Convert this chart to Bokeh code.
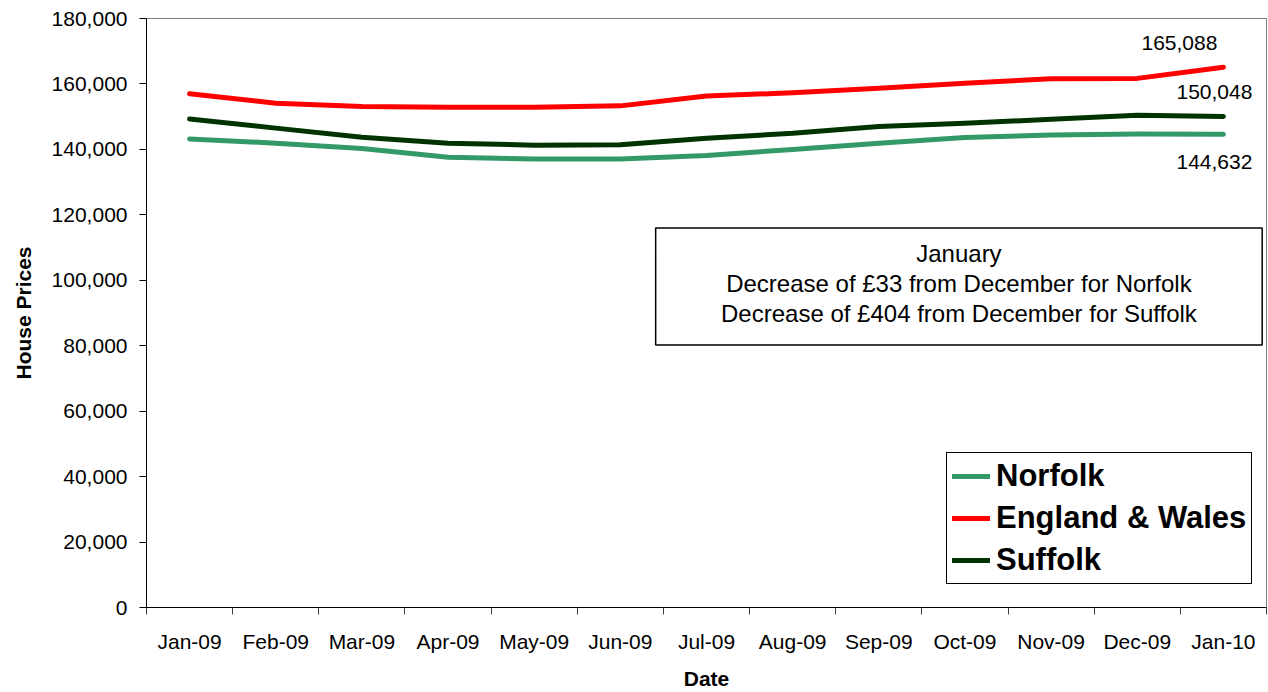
from bokeh.plotting import figure
from bokeh.models import (Range1d, FixedTicker, NumeralTickFormatter, ColumnDataSource,
                          LabelSet, Label, BoxAnnotation, Legend)
from bokeh.core.properties import value
from bokeh.embed import file_html
from bokeh.resources import INLINE

months = ["Jan-09", "Feb-09", "Mar-09", "Apr-09", "May-09", "Jun-09", "Jul-09",
          "Aug-09", "Sep-09", "Oct-09", "Nov-09", "Dec-09", "Jan-10"]
norfolk = [143200, 141900, 140300, 137600, 137100, 137100, 138100,
           140000, 141900, 143600, 144400, 144665, 144632]
england_wales = [157000, 154100, 153100, 152900, 152900, 153300, 156300,
                 157300, 158700, 160200, 161600, 161700, 165088]
suffolk = [149300, 146500, 143700, 141900, 141300, 141400, 143400,
           144900, 147000, 148000, 149200, 150452, 150048]
y_ticks = [0, 20000, 40000, 60000, 80000, 100000, 120000, 140000, 160000, 180000]

FONT = "Liberation Sans"
xs = list(range(len(months)))

p = figure(width=1268, height=692, output_backend="svg", toolbar_location=None,
           x_range=Range1d(-0.5, len(months) - 0.5), y_range=Range1d(0, 180000),
           min_border_left=146, min_border_right=2, min_border_top=18, min_border_bottom=85)
p.background_fill_color = "white"
p.border_fill_color = "white"
p.outline_line_color = "#808080"
p.outline_line_width = 1
p.xgrid.visible = False
p.ygrid.visible = False

# x axis
p.xaxis.ticker = FixedTicker(ticks=xs, minor_ticks=[i - 0.5 for i in range(len(months) + 1)])
p.xaxis.major_label_overrides = {i: m for i, m in enumerate(months)}
p.xaxis.major_tick_out = 0
p.xaxis.major_tick_in = 0
p.xaxis.minor_tick_out = 7
p.xaxis.minor_tick_in = 0
p.xaxis.minor_tick_line_color = "#404040"
p.xaxis.major_label_standoff = 15
p.xaxis.major_label_text_font = FONT
p.xaxis.major_label_text_font_size = "21px"
p.xaxis.major_label_text_color = "black"
p.xaxis.axis_label = "Date"
p.xaxis.axis_label_text_font = FONT
p.xaxis.axis_label_text_font_size = "21px"
p.xaxis.axis_label_text_font_style = "bold"
p.xaxis.axis_label_text_color = "black"
p.xaxis.axis_label_standoff = 11
p.xaxis.axis_line_color = "black"

# y axis
p.yaxis.ticker = FixedTicker(ticks=y_ticks)
p.yaxis.formatter = NumeralTickFormatter(format="0,0")
p.yaxis.major_tick_out = 7
p.yaxis.major_tick_in = 0
p.yaxis.minor_tick_out = 0
p.yaxis.minor_tick_in = 0
p.yaxis.major_label_standoff = 12
p.yaxis.major_label_text_font = FONT
p.yaxis.major_label_text_font_size = "21px"
p.yaxis.major_label_text_color = "black"
p.yaxis.axis_label = "House Prices"
p.yaxis.axis_label_text_font = FONT
p.yaxis.axis_label_text_font_size = "21px"
p.yaxis.axis_label_text_font_style = "bold"
p.yaxis.axis_label_text_color = "black"
p.yaxis.axis_label_standoff = 14
p.yaxis.axis_line_color = "black"

# annotation box
box = BoxAnnotation(left=5.41, right=12.45, bottom=80200, top=116000,
                    fill_color="white", fill_alpha=1, line_color="black", line_alpha=1,
                    line_width=1.5, level="overlay")
p.add_layout(box)
ann_lines = ["January",
             "Decrease of £%d from December for Norfolk" % (norfolk[-2] - norfolk[-1]),
             "Decrease of £%d from December for Suffolk" % (suffolk[-2] - suffolk[-1])]
for txt, yy in zip(ann_lines, [108300, 98900, 89700]):
    p.add_layout(Label(x=8.93, y=yy, text=txt, text_align="center", text_baseline="middle",
                       text_font=FONT, text_font_size="24px", text_color="black", level="overlay"))

# series
r_n = p.line(xs, norfolk, line_color="#339966", line_width=5, line_cap="round", line_join="round")
r_e = p.line(xs, england_wales, line_color="#FF0000", line_width=5, line_cap="round", line_join="round")
r_s = p.line(xs, suffolk, line_color="#003300", line_width=5, line_cap="round", line_join="round")

# end labels
last = len(months) - 1
src = ColumnDataSource(dict(
    x=[last, last, last],
    y=[england_wales[-1], suffolk[-1], norfolk[-1]],
    t=["{:,}".format(england_wales[-1]), "{:,}".format(suffolk[-1]), "{:,}".format(norfolk[-1])],
    xo=[-44, 29, 29],
    yo=[24, 25, -28],
    al=["center", "right", "right"],
))
p.add_layout(LabelSet(x="x", y="y", text="t", x_offset="xo", y_offset="yo", text_align="al",
                      text_baseline="middle", source=src, text_font=value(FONT),
                      text_font_size=value("21px"), text_color=value("black")))

legend = Legend(items=[("Norfolk", [r_n]), ("England & Wales", [r_e]), ("Suffolk", [r_s])],
                location=(800, 23))
legend.label_text_font = FONT
legend.label_text_font_size = "31px"
legend.label_text_font_style = "bold"
legend.label_text_color = "black"
legend.border_line_color = "black"
legend.border_line_alpha = 1
legend.border_line_width = 1
legend.background_fill_color = "white"
legend.background_fill_alpha = 1
legend.glyph_width = 38
legend.glyph_height = 30
legend.label_height = 30
legend.spacing = 6
legend.padding = 5
legend.margin = 0
legend.label_standoff = 6
p.add_layout(legend)

open("out.html", "w").write(file_html(p, INLINE))
